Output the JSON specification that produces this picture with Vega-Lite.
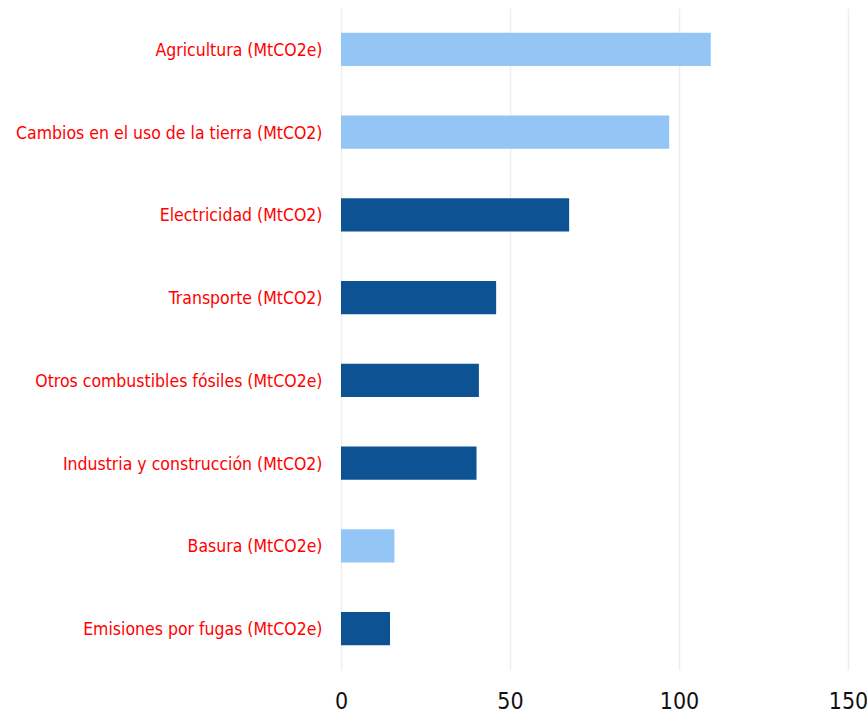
{
  "$schema": "https://vega.github.io/schema/vega-lite/v6.json",
  "autosize": {"type": "none"},
  "width": 507,
  "height": 662,
  "padding": {"left": 341, "top": 8, "right": 19, "bottom": 44},
  "background": "white",
  "data": {
    "values": [
      {"categoria": "Agricultura (MtCO2e)", "valor": 109.4, "tipo": "no energía"},
      {"categoria": "Cambios en el uso de la tierra (MtCO2)", "valor": 97.1, "tipo": "no energía"},
      {"categoria": "Electricidad (MtCO2)", "valor": 67.5, "tipo": "energía"},
      {"categoria": "Transporte (MtCO2)", "valor": 45.9, "tipo": "energía"},
      {"categoria": "Otros combustibles fósiles (MtCO2e)", "valor": 40.8, "tipo": "energía"},
      {"categoria": "Industria y construcción (MtCO2)", "valor": 40.1, "tipo": "energía"},
      {"categoria": "Basura (MtCO2e)", "valor": 15.8, "tipo": "no energía"},
      {"categoria": "Emisiones por fugas (MtCO2e)", "valor": 14.5, "tipo": "energía"}
    ]
  },
  "config": {
    "view": {"stroke": null},
    "font": "DejaVu Sans Condensed, Liberation Sans, sans-serif"
  },
  "mark": {"type": "bar"},
  "encoding": {
    "y": {
      "field": "categoria",
      "type": "nominal",
      "sort": null,
      "title": null,
      "scale": {"paddingInner": 0.6, "paddingOuter": 0.3},
      "axis": {
        "domain": false,
        "ticks": false,
        "grid": false,
        "labelColor": "#ff0000",
        "labelFont": "DejaVu Sans Condensed, Liberation Sans, sans-serif",
        "labelFontSize": 17.5,
        "labelPadding": 19,
        "labelOffset": 1.5,
        "labelLimit": 400
      }
    },
    "x": {
      "field": "valor",
      "type": "quantitative",
      "title": null,
      "scale": {"domain": [0, 150], "nice": false},
      "axis": {
        "values": [0, 50, 100, 150],
        "domain": false,
        "ticks": false,
        "tickSize": 0,
        "grid": true,
        "gridColor": "#eeeeee",
        "gridWidth": 1.5,
        "labelColor": "#111111",
        "labelFont": "DejaVu Sans Condensed, Liberation Sans, sans-serif",
        "labelFontSize": 23,
        "labelPadding": 20,
        "labelFlush": false
      }
    },
    "color": {
      "field": "tipo",
      "type": "nominal",
      "scale": {"domain": ["no energía", "energía"], "range": ["#93c6f5", "#0d5394"]},
      "legend": null
    }
  }
}
